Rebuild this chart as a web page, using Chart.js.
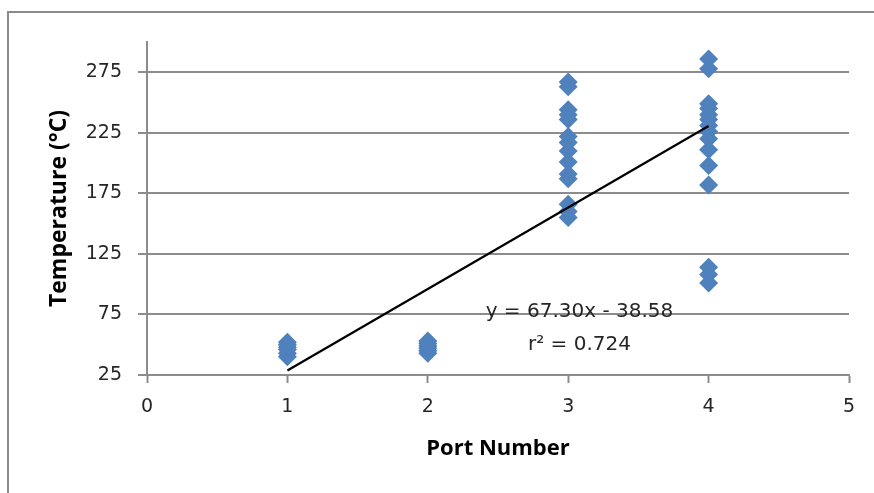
<!DOCTYPE html>
<html>
<head>
<meta charset="utf-8">
<script src="https://cdn.jsdelivr.net/npm/chart.js@4/dist/chart.umd.min.js"></script>
<style>
  html, body { margin: 0; padding: 0; background: #fff; }
  #wrap { width: 874px; height: 493px; }
</style>
</head>
<body>
<div id="wrap"><canvas id="c" width="874" height="493"></canvas></div>
<script>
// Port positions and measured temperatures (°C) at each port
const ports = [1, 2, 3, 4];
const port1Temps = [40, 43, 46, 48, 50, 52];
const port2Temps = [43, 45, 47, 49, 51, 53];
const port3Temps = [267, 263, 244, 240, 236, 222, 217, 210, 201, 191, 187, 166, 160, 155];
const port4Temps = [286, 278, 249, 245, 240, 236, 231, 226, 220, 211, 198, 182, 114, 108, 101];

// Linear fit reported on the chart
const trendSlope = 67.30;
const trendIntercept = -38.58;
const rSquared = 0.724;
const trendRange = [1, 4];

// Axis tick labels
const xTicks = [0, 1, 2, 3, 4, 5];
const yTicks = [25, 75, 125, 175, 225, 275];

const tempsByPort = [port1Temps, port2Temps, port3Temps, port4Temps];
const scatterPoints = [];
ports.forEach((p, i) => tempsByPort[i].forEach(t => scatterPoints.push({ x: p, y: t })));

const trendPoints = trendRange.map(x => ({ x: x, y: trendSlope * x + trendIntercept }));

const gridGray = '#8c8c8c';
const textColor = '#262626';
const labelFont = "'DejaVu Sans', 'Open Sans', sans-serif";
const titleFont = "'Open Sans', 'Liberation Sans', sans-serif";

// Outer chart frame (left and top edges visible)
const framePlugin = {
  id: 'frame',
  beforeDraw(chart) {
    const ctx = chart.ctx;
    ctx.save();
    ctx.strokeStyle = '#8a8a8a';
    ctx.lineWidth = 2;
    ctx.beginPath();
    ctx.moveTo(8, chart.height + 2);
    ctx.lineTo(8, 12);
    ctx.lineTo(chart.width + 2, 12);
    ctx.stroke();
    ctx.restore();
  }
};

// Fit equation and r² label
const fitLabelPlugin = {
  id: 'fitLabel',
  afterDatasetsDraw(chart) {
    const xs = chart.scales.x, ys = chart.scales.y;
    const ctx = chart.ctx;
    const cx = xs.getPixelForValue(3.08);
    const sign = trendIntercept < 0 ? ' - ' : ' + ';
    const eq = 'y = ' + trendSlope.toFixed(2) + 'x' + sign + Math.abs(trendIntercept).toFixed(2);
    const r2 = 'r² = ' + rSquared.toFixed(3);
    ctx.save();
    ctx.fillStyle = textColor;
    ctx.font = "20px " + labelFont;
    ctx.textAlign = 'center';
    ctx.textBaseline = 'middle';
    ctx.fillText(eq, cx, ys.getPixelForValue(77));
    ctx.fillText(r2, cx, ys.getPixelForValue(50));
    ctx.restore();
  }
};

new Chart(document.getElementById('c'), {
  type: 'scatter',
  data: {
    datasets: [
      {
        label: 'Temperature',
        data: scatterPoints,
        pointStyle: 'rectRot',
        pointRadius: 9.5,
        pointHoverRadius: 9.5,
        pointBackgroundColor: '#4F81BD',
        pointBorderColor: '#4F81BD',
        pointBorderWidth: 0,
        order: 2
      },
      {
        label: 'Linear fit',
        type: 'line',
        data: trendPoints,
        borderColor: '#000000',
        borderWidth: 2.2,
        pointRadius: 0,
        fill: false,
        order: 1
      }
    ]
  },
  options: {
    responsive: false,
    animation: false,
    events: [],
    layout: { padding: { left: 0, top: 42, right: 25, bottom: 0 } },
    plugins: {
      legend: { display: false },
      tooltip: { enabled: false },
      title: { display: false }
    },
    scales: {
      x: {
        type: 'linear',
        min: 0,
        max: 5,
        afterBuildTicks(scale) { scale.ticks = xTicks.map(v => ({ value: v })); },
        afterFit(scale) { scale.height = 118; },
        grid: {
          drawOnChartArea: false,
          drawTicks: true,
          tickLength: 8,
          tickWidth: 2,
          tickColor: gridGray
        },
        border: { display: true, color: gridGray, width: 2 },
        ticks: {
          color: textColor,
          padding: 13,
          font: { family: labelFont, size: 19 },
          maxRotation: 0
        },
        title: {
          display: true,
          text: 'Port Number',
          color: '#000000',
          font: { family: titleFont, size: 22, weight: 'bold' },
          padding: { top: 0, bottom: 31 }
        }
      },
      y: {
        type: 'linear',
        min: 25,
        max: 300,
        afterBuildTicks(scale) { scale.ticks = yTicks.map(v => ({ value: v })); },
        afterFit(scale) { scale.width = 147; },
        grid: {
          color: gridGray,
          lineWidth: 2,
          drawTicks: true,
          tickLength: 9,
          tickColor: gridGray
        },
        border: { display: true, color: gridGray, width: 2 },
        ticks: {
          color: textColor,
          padding: 16,
          font: { family: labelFont, size: 19 }
        },
        title: {
          display: true,
          text: 'Temperature (°C)',
          color: '#000000',
          font: { family: titleFont, size: 23, weight: 'bold' },
          padding: { top: 46, bottom: 0 }
        }
      }
    }
  },
  plugins: [framePlugin, fitLabelPlugin]
});
</script>
</body>
</html>
